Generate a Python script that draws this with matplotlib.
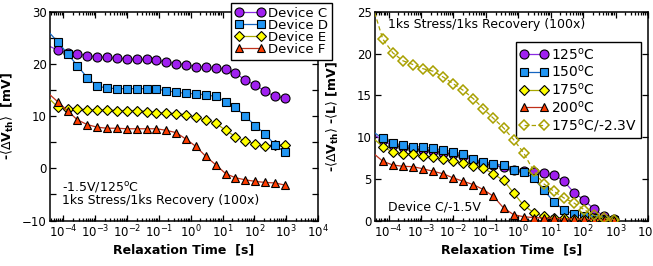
import numpy as np
import matplotlib
matplotlib.use("Agg")
import matplotlib.pyplot as plt
from matplotlib.ticker import LogLocator, MultipleLocator, NullFormatter

plt.rcParams['font.family'] = ['DejaVu Sans']
plt.rcParams['mathtext.fontset'] = 'dejavusans'

# relaxation times [s]; first entry lies left of the visible axis range
times = [2.5e-5, 6.6e-5, 1.35e-4, 2.76e-4, 5.64e-4, 1.15e-3, 2.36e-3, 4.81e-3,
         9.84e-3, 0.0201, 0.0411, 0.0839, 0.171, 0.351, 0.717, 1.47, 2.99,
         6.11, 12.5, 25.5, 52.2, 107, 218, 446, 910]

# left panel: -<dVth> [mV] for devices at -1.5V/125C
dev_c = [23.9, 22.7, 22.2, 22.0, 21.6, 21.4, 21.3, 21.1, 21.0, 20.9, 20.9, 20.7,
         20.4, 20.1, 19.9, 19.5, 19.4, 19.2, 19.1, 18.3, 16.9, 16.0, 14.8, 13.8, 13.5]
dev_d = [27.1, 24.3, 22.0, 19.7, 17.4, 15.8, 15.4, 15.3, 15.3, 15.3, 15.3, 15.2,
         14.9, 14.6, 14.4, 14.3, 14.1, 13.8, 12.8, 11.7, 10.0, 8.2, 6.6, 4.5, 3.1]
dev_e = [14.3, 11.8, 11.3, 11.4, 11.2, 11.2, 11.2, 11.1, 11.1, 11.1, 10.9, 10.7,
         10.6, 10.5, 10.3, 9.8, 9.2, 8.7, 7.3, 6.1, 5.2, 4.7, 4.2, 4.4, 4.4]
dev_f = [15.1, 12.8, 11.05, 9.3, 8.4, 7.9, 7.7, 7.7, 7.6, 7.6, 7.6, 7.6,
         7.3, 6.85, 5.6, 4.2, 2.3, 0.7, -1.0, -1.8, -2.2, -2.5, -2.7, -2.8, -3.2]

# right panel: -<dVth> - <L> [mV], device C
t125 = [10.7, 9.6, 9.0, 8.8, 8.6, 8.5, 8.35, 8.15, 7.95, 7.7, 7.15, 6.85, 6.6,
        6.4, 6.0, 5.9, 5.8, 5.65, 5.5, 4.7, 3.35, 2.45, 1.35, 0.5, 0.15]
t150 = [10.95, 9.85, 9.25, 9.05, 8.85, 8.8, 8.65, 8.45, 8.25, 7.95, 7.35, 7.05,
        6.8, 6.6, 6.05, 5.85, 5.05, 3.65, 2.25, 1.25, 0.75, 0.5, 0.35, 0.2, 0.1]
t175 = [10.3, 8.85, 8.2, 8.0, 8.0, 7.7, 7.6, 7.35, 7.1, 6.85, 6.5, 6.25, 5.6,
        4.8, 3.3, 1.8, 0.95, 0.5, 0.35, 0.25, 0.2, 0.15, 0.1, 0.1, 0.05]
t200 = [8.5, 7.1, 6.65, 6.5, 6.45, 6.2, 5.9, 5.6, 5.1, 4.7, 4.3, 3.7, 2.9,
        1.5, 0.7, 0.45, 0.35, 0.3, 0.25, 0.2, 0.2, 0.15, 0.1, 0.1, 0.05]
t175_23 = [27.1, 21.75, 20.1, 19.15, 18.7, 18.2, 17.9, 17.2, 16.4, 15.6, 14.6,
           13.4, 12.25, 11.1, 9.7, 8.1, 5.9, 4.4, 3.5, 2.7, 2.1, 1.3, 0.6, 0.3, 0.1]

W, H = 653, 266
fig = plt.figure(figsize=(W / 100, H / 100), dpi=100)
ax1 = fig.add_axes([50 / W, 1 - 220.5 / H, (318 - 50) / W, (220.5 - 12) / H])
ax2 = fig.add_axes([375 / W, 1 - 220.5 / H, (648 - 375) / W, (220.5 - 12) / H])

purple, purple_l = '#a020f0', '#8a2be2'
blue, blue_l = '#2196f3', '#1565c0'
yellow, yellow_l = '#ffff00', '#a8a800'
red, red_l = '#ff3d00', '#c0301a'
olive = '#a8a000'

FS = 9
TFS = 8.5

def style(ax):
    ax.set_xscale('log')
    ax.set_xlim(3.8e-5, 1e4)
    ax.xaxis.set_major_locator(LogLocator(base=10, numticks=20))
    ax.xaxis.set_minor_locator(LogLocator(base=10, subs=np.arange(2, 10), numticks=20))
    ax.xaxis.set_minor_formatter(NullFormatter())
    ax.tick_params(which='both', direction='in', top=True, right=True,
                   labelsize=TFS, pad=2.5, width=0.9)
    ax.tick_params(which='major', length=4)
    ax.tick_params(which='minor', length=2)
    for s in ax.spines.values():
        s.set_linewidth(1.1)
    ax.set_xlabel('Relaxation Time  [s]', fontsize=FS, fontweight='bold', labelpad=2)

mk = dict(markeredgecolor='black', markeredgewidth=0.8, linewidth=0.9)

# left panel
ax1.plot(times, dev_c, marker='o', ms=6.5, color=purple_l, mfc=purple, label='Device C', zorder=2, **mk)
ax1.plot(times, dev_e, marker='D', ms=4.6, color=yellow_l, mfc=yellow, label='Device E', zorder=3, **mk)
ax1.plot(times, dev_f, marker='^', ms=6.3, color=red_l, mfc=red, label='Device F', zorder=4, **mk)
ax1.plot(times, dev_d, marker='s', ms=5.8, color=blue_l, mfc=blue, label='Device D', zorder=5, **mk)
style(ax1)
ax1.set_ylim(-10, 30)
ax1.yaxis.set_major_locator(MultipleLocator(10))
ax1.yaxis.set_minor_locator(MultipleLocator(5))
ax1.tick_params(which='minor', axis='y', length=4)
ax1.set_ylabel(r'-$\langle\Delta\mathbf{V}_{\mathbf{th}}\rangle$  [mV]', fontsize=FS, fontweight='bold')
ax1.yaxis.set_label_coords(-0.125, 0.5)
ax1.text(0.045, 0.16, r'-1.5V/125$^{\rm o}$C', transform=ax1.transAxes, fontsize=FS, va='center')
ax1.text(0.045, 0.094, '1ks Stress/1ks Recovery (100x)', transform=ax1.transAxes, fontsize=FS, va='center')
h, l = ax1.get_legend_handles_labels()
order = [0, 3, 1, 2]
leg1 = ax1.legend([h[i] for i in order], [l[i] for i in order], loc='upper right',
                  bbox_to_anchor=(332 / W, 1 - 3 / H), bbox_transform=fig.transFigure,
                  borderaxespad=0, fontsize=9.5, numpoints=2, handlelength=2.26,
                  handletextpad=0.25, borderpad=0.3, labelspacing=-0.08,
                  frameon=True, fancybox=False, framealpha=1, edgecolor='black')
leg1.get_frame().set_linewidth(1.0)
leg1.set_zorder(20)

# right panel
ax2.plot(times, t125, marker='o', ms=6.5, color=purple_l, mfc=purple, label=r'125$^{\rm o}$C', zorder=2, **mk)
ax2.plot(times, t150, marker='s', ms=5.8, color=blue_l, mfc=blue, label=r'150$^{\rm o}$C', zorder=3, **mk)
ax2.plot(times, t175, marker='D', ms=4.6, color=yellow_l, mfc=yellow, label=r'175$^{\rm o}$C', zorder=4, **mk)
ax2.plot(times, t200, marker='^', ms=6.3, color=red_l, mfc=red, label=r'200$^{\rm o}$C', zorder=5, **mk)
ax2.plot(times, t175_23, marker='D', ms=4.6, color=olive, mfc='none', mec=olive, mew=1.1,
         linestyle=(0, (3.5, 2.2)), linewidth=0.9, label=r'175$^{\rm o}$C/-2.3V', zorder=6)
style(ax2)
ax2.set_ylim(0, 25)
ax2.yaxis.set_major_locator(MultipleLocator(5))
ax2.set_ylabel(r'-$\langle\Delta\mathbf{V}_{\mathbf{th}}\rangle$ -$\langle\mathbf{L}\rangle$ [mV]', fontsize=FS, fontweight='bold')
ax2.yaxis.set_label_coords(-0.125, 0.5)
ax2.text(0.048, 0.938, '1ks Stress/1ks Recovery (100x)', transform=ax2.transAxes, fontsize=FS, va='center')
ax2.text(0.048, 0.065, 'Device C/-1.5V', transform=ax2.transAxes, fontsize=FS, va='center')
leg2 = ax2.legend(loc='upper right', bbox_to_anchor=(641 / W, 1 - 42 / H), bbox_transform=fig.transFigure,
                  borderaxespad=0, fontsize=10, numpoints=2, handlelength=2.04,
                  handletextpad=0.2, borderpad=0.3, labelspacing=0.12,
                  frameon=True, fancybox=False, framealpha=1, edgecolor='black')
leg2.get_frame().set_linewidth(1.0)

fig.savefig('out.png', dpi=100)
